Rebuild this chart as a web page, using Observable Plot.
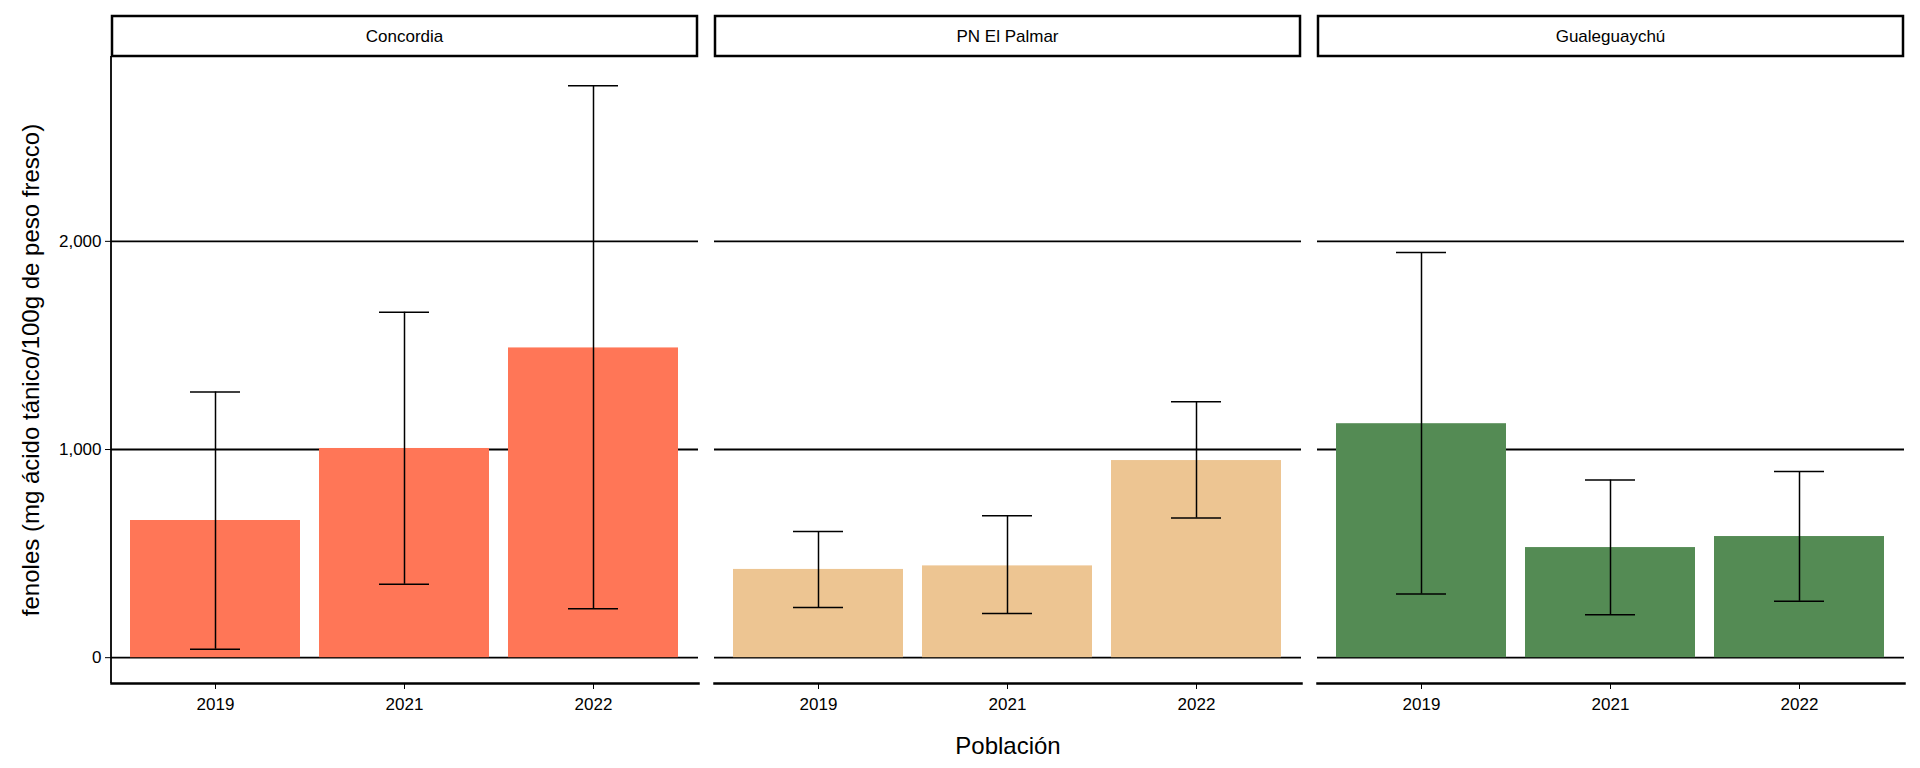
<!DOCTYPE html>
<html><head><meta charset="utf-8">
<script src="https://cdn.jsdelivr.net/npm/d3@7"></script>
<script src="https://cdn.jsdelivr.net/npm/@observablehq/plot@0.6"></script>
<style>body{margin:0;background:#fff;font-family:"Liberation Sans",Arial,sans-serif}</style>
</head><body><div id="Chart"></div>
<script>
var sites = ["Concordia", "PN El Palmar", "Gualeguaychú"];
var years = ["2019", "2021", "2022"];
var colors = ["#FF7657", "#EDC592", "#548B54"];
var means = [[659, 1005, 1488], [424, 441, 947], [1124, 529, 582]];
var lows = [[41, 353, 235], [241, 212, 671], [306, 206, 271]];
var highs = [[1276, 1659, 2747], [606, 682, 1229], [1947, 853, 894]];

var res = [];
sites.forEach((s, i) => years.forEach((y, j) => {
  res.push({site: s, year: y, value: means[i][j], lo: lows[i][j], hi: highs[i][j]});
}));

var options = {
  width: 1920, height: 768,
  marginTop: 56, marginLeft: 110, marginRight: 16, marginBottom: 85,
  style: {fontFamily: "Liberation Sans, Arial, sans-serif", fontSize: "17px", color: "#000", background: "#fff"},
  fx: {domain: sites, padding: 0.027, axis: null},
  x: {domain: years, padding: 0.1, label: "Población", labelAnchor: "center", labelOffset: 70, tickSize: 6, tickPadding: 8},
  y: {domain: [-124, 2888], ticks: [0, 1000, 2000], tickSize: 6, tickPadding: 4,
      label: "fenoles (mg ácido tánico/100g de peso fresco)", labelAnchor: "center", labelOffset: 90, labelArrow: "none"},
  color: {domain: sites, range: colors},
  marks: [
    Plot.ruleY([0, 1000, 2000], {stroke: "#000", strokeWidth: 1.8}),
    Plot.barY(res, {fx: "site", x: "year", y: "value", fill: "site"}),
    Plot.ruleX(res, {fx: "site", x: "year", y1: "lo", y2: "hi", stroke: "#000", strokeWidth: 1.5}),
    Plot.tickY(res, {fx: "site", x: "year", y: "lo", stroke: "#000", strokeWidth: 1.5, insetLeft: 60, insetRight: 60}),
    Plot.tickY(res, {fx: "site", x: "year", y: "hi", stroke: "#000", strokeWidth: 1.5, insetLeft: 60, insetRight: 60}),
    Plot.frame({anchor: "bottom", stroke: "#000", strokeWidth: 2.5})
  ]
};
var chart = Plot.plot(options);
document.getElementById("Chart").append(chart);

// strip boxes and left axis line
var svg = d3.select(chart);
var fx = chart.scale("fx");
var bw = fx.bandwidth;
sites.forEach(s => {
  var x0 = fx.apply(s);
  var g = svg.append("g");
  g.append("rect").attr("x", x0 + 1).attr("y", 16).attr("width", bw - 2).attr("height", 40)
    .attr("fill", "#fff").attr("stroke", "#000").attr("stroke-width", 2.5);
  g.append("text").attr("x", x0 + bw / 2).attr("y", 42).attr("text-anchor", "middle")
    .attr("font-size", 17).attr("font-family", "Liberation Sans, Arial, sans-serif").text(s);
});
var y = chart.scale("y");
var lx = fx.apply(sites[0]);
svg.append("line").attr("x1", lx).attr("x2", lx).attr("y1", 56).attr("y2", y.apply(-124))
  .attr("stroke", "#000").attr("stroke-width", 1.8);
svg.selectAll("[aria-label='x-axis label'] text, [aria-label='y-axis label'] text").attr("font-size", 24);
</script></body></html>
